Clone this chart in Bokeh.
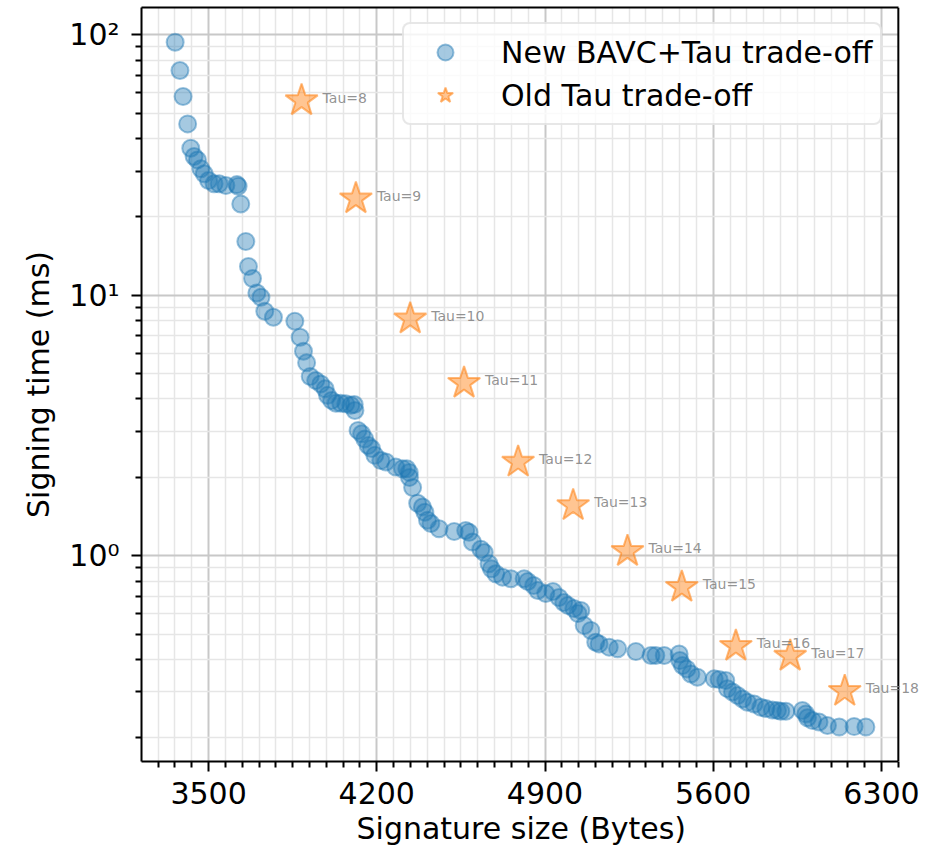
from bokeh.plotting import figure
from bokeh.models import (Range1d, FixedTicker, CustomJSTickFormatter, Legend,
                          LegendItem, ColumnDataSource, Label, BoxAnnotation,
                          Span, LinearAxis, Title)
from bokeh.embed import file_html
from bokeh.resources import INLINE

# ---- data ----
new_size = [3361, 3381, 3394, 3413, 3426, 3440, 3454, 3468, 3482, 3500,
            3523, 3544, 3572, 3618, 3623, 3634, 3655, 3666, 3683, 3701,
            3718, 3734, 3770, 3859, 3881, 3895, 3908, 3923, 3946, 3967,
            3985, 3995, 4012, 4030, 4050, 4071, 4092, 4106, 4109, 4122,
            4137, 4150, 4164, 4178, 4192, 4217, 4238, 4279, 4307, 4325,
            4335, 4336, 4349, 4370, 4390, 4400, 4411, 4425, 4459, 4522,
            4570, 4584, 4598, 4633, 4647, 4667, 4677, 4695, 4723, 4758,
            4813, 4828, 4853, 4870, 4903, 4933, 4958, 4978, 4995, 5020,
            5037, 5049, 5063, 5091, 5111, 5125, 5167, 5202, 5278, 5341,
            5361, 5396, 5458, 5461, 5472, 5490, 5507, 5534, 5604, 5624,
            5652, 5659, 5680, 5701, 5722, 5742, 5770, 5798, 5819, 5846,
            5867, 5881, 5902, 5971, 5985, 5992, 6013, 6040, 6075, 6124,
            6186, 6235]
new_time = [93.7, 72.9, 58.0, 45.5, 36.7, 34.1, 33.1, 30.6, 29.3, 27.6,
            26.8, 26.8, 26.4, 26.6, 26.2, 22.4, 16.1, 12.9, 11.6, 10.2,
            9.83, 8.69, 8.24, 7.95, 6.90, 6.10, 5.51, 4.88, 4.71, 4.57,
            4.38, 4.13, 3.95, 3.85, 3.85, 3.83, 3.78, 3.81, 3.61, 3.03,
            2.94, 2.81, 2.65, 2.58, 2.43, 2.32, 2.29, 2.19, 2.16, 2.16,
            2.09, 2.00, 1.83, 1.59, 1.54, 1.47, 1.37, 1.33, 1.27, 1.24,
            1.25, 1.23, 1.13, 1.06, 1.03, 0.932, 0.891, 0.853, 0.828, 0.816,
            0.816, 0.797, 0.769, 0.736, 0.717, 0.729, 0.692, 0.662, 0.645, 0.628,
            0.600, 0.617, 0.540, 0.517, 0.466, 0.459, 0.446, 0.440, 0.429, 0.414,
            0.414, 0.414, 0.420, 0.396, 0.379, 0.368, 0.352, 0.342, 0.337, 0.335,
            0.332, 0.309, 0.300, 0.291, 0.282, 0.274, 0.270, 0.262, 0.259, 0.256,
            0.255, 0.253, 0.253, 0.255, 0.247, 0.239, 0.233, 0.230, 0.223, 0.220,
            0.221, 0.220]

tau_values = [8, 9, 10, 11, 12, 13, 14, 15, 16, 17, 18]
old_size = [3887, 4113, 4339, 4563, 4788, 5017, 5243, 5469, 5694, 5920, 6147]
old_time = [55.9, 23.5, 8.12, 4.60, 2.29, 1.56, 1.04, 0.758, 0.450, 0.412, 0.302]
tau_labels = ["Tau=%d" % t for t in tau_values]

x_major_ticks = [3500, 4200, 4900, 5600, 6300]
x_minor_ticks = [v for v in range(3220, 6371, 70) if v not in x_major_ticks]
y_major_ticks = [1, 10, 100]
y_minor_ticks = [m * d for d in (0.1, 1, 10) for m in range(2, 10)]

X_MIN, X_MAX = 3221, 6370          # visible axes box
X_FRAME_MAX = 6483                 # drawing area reaches past the right spine
Y_MIN, Y_MAX = 0.1623, 127.3

series_names = ["New BAVC+Tau trade-off", "Old Tau trade-off"]
x_label = "Signature size (Bytes)"
y_label = "Signing time (ms)"

FONT = "DejaVu Sans"
FS = "30px"

p = figure(width=925, height=853, y_axis_type="log",
           x_range=Range1d(X_MIN, X_FRAME_MAX), y_range=Range1d(Y_MIN, Y_MAX),
           output_backend="svg", toolbar_location=None,
           min_border_left=141, min_border_right=0,
           min_border_top=7, min_border_bottom=92)

p.outline_line_color = None
p.background_fill_color = "white"
p.border_fill_color = "white"

xt = FixedTicker(ticks=x_major_ticks, minor_ticks=x_minor_ticks)
yt = FixedTicker(ticks=y_major_ticks, minor_ticks=y_minor_ticks)
p.xaxis.ticker = xt
p.xgrid.ticker = xt
p.yaxis.ticker = yt
p.ygrid.ticker = yt
p.xaxis.bounds = (X_MIN, X_MAX)

p.yaxis.formatter = CustomJSTickFormatter(code="""
const sup = {"0":"\u2070","1":"\u00b9","2":"\u00b2","3":"\u00b3","-":"\u207b"};
const e = Math.round(Math.log10(tick));
return "10" + String(e).split("").map(c => sup[c]).join("");
""")

for ax in (p.xaxis, p.yaxis):
    ax.axis_line_color = "black"
    ax.axis_line_width = 2
    ax.major_tick_line_width = 2
    ax.minor_tick_line_width = 2
    ax.major_tick_out = 10
    ax.major_tick_in = 0
    ax.minor_tick_out = 6
    ax.minor_tick_in = 0
    ax.major_label_text_font = FONT
    ax.major_label_text_font_size = FS
    ax.major_label_text_color = "black"
    ax.axis_label_text_font = FONT
    ax.axis_label_text_font_size = FS
    ax.axis_label_text_font_style = "normal"
    ax.axis_label_text_color = "black"

p.xaxis.major_label_standoff = 10
p.yaxis.axis_label = y_label
p.yaxis.major_label_standoff = 12
p.yaxis.axis_label_standoff = 10

# x-axis title centred under the visible axes box
p.add_layout(Title(text=x_label, align="left", offset=215, standoff=4,
                   text_font=FONT, text_font_size=FS, text_font_style="normal",
                   text_color="black"), "below")

# top spine: an empty axis above, limited to the axes box
top = LinearAxis(bounds=(X_MIN, X_MAX), axis_line_width=2,
                 axis_line_color="black", major_tick_out=0, major_tick_in=0,
                 minor_tick_out=0, minor_tick_in=0, major_label_standoff=0,
                 major_label_text_font_size="0px", ticker=FixedTicker(ticks=[]))
p.add_layout(top, "above")

for g in (p.xgrid, p.ygrid):
    g.grid_line_color = "#c8c8c8"
    g.grid_line_width = 2
    g.minor_grid_line_color = "#e6e6e6"
    g.minor_grid_line_width = 1.5

src_new = ColumnDataSource(dict(x=new_size, y=new_time))
src_old = ColumnDataSource(dict(x=old_size, y=old_time, label=tau_labels))

r_new = p.scatter("x", "y", source=src_new, marker="circle", size=17,
                  fill_color="#1f77b4", fill_alpha=0.4,
                  line_color="#1f77b4", line_alpha=0.45, line_width=2)
r_old = p.scatter("x", "y", source=src_old, marker="star", size=34,
                  fill_color="#ff7f0e", fill_alpha=0.45,
                  line_color="#ff7f0e", line_alpha=0.55, line_width=2)

# blank the strip right of the axes box, then draw the right spine
p.add_layout(BoxAnnotation(left=X_MAX, right=X_FRAME_MAX, bottom=Y_MIN, top=Y_MAX,
                           fill_color="white", fill_alpha=1, line_alpha=0))
p.add_layout(Span(location=X_MAX, dimension="height", line_color="black",
                  line_width=2))

for xs, ys, txt in zip(old_size, old_time, tau_labels):
    p.add_layout(Label(x=xs, y=ys, text=txt, x_offset=21, y_offset=3,
                       text_font=FONT, text_font_size="14px",
                       text_color="gray", text_alpha=0.85,
                       text_baseline="middle", text_align="left"))

legend = Legend(items=[LegendItem(label=series_names[0], renderers=[r_new]),
                       LegendItem(label=series_names[1], renderers=[r_old])],
                location=(261, 636), padding=8,
                glyph_width=66, glyph_height=40, spacing=3, label_standoff=23,
                label_text_font=FONT, label_text_font_size=FS,
                label_text_color="black",
                border_line_color="#d0d0d0", border_line_width=2,
                background_fill_color="white", background_fill_alpha=0.8)
try:
    legend.border_radius = 8
except Exception:
    pass
p.add_layout(legend)

open("out.html", "w").write(file_html(p, INLINE))
